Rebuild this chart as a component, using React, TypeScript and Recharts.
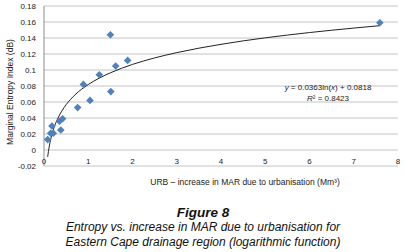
import { ComposedChart, Scatter, Line, XAxis, YAxis, CartesianGrid } from "recharts";

// URB – increase in MAR (Mm³) vs marginal entropy (dB)
const urb = [0.083, 0.15, 0.18, 0.21, 0.35, 0.38, 0.42, 0.76, 0.89, 1.04, 1.25, 1.5, 1.51, 1.62, 1.89, 7.59];
const entropy = [0.013, 0.021, 0.03, 0.021, 0.036, 0.025, 0.039, 0.053, 0.082, 0.062, 0.094, 0.144, 0.073, 0.105, 0.112, 0.159];

// log trendline y = 0.0363ln(x) + 0.0818
const trendX = [0.083, 0.1, 0.12, 0.15, 0.2, 0.25, 0.3, 0.4, 0.5, 0.7, 1, 1.25, 1.5, 2, 2.5, 3, 4, 5, 6, 7, 7.59];
const trendY = [-0.0085, -0.0018, 0.0048, 0.0129, 0.0234, 0.0315, 0.0381, 0.0485, 0.0566, 0.0689, 0.0818, 0.0899, 0.0965, 0.107, 0.1151, 0.1217, 0.1321, 0.1402, 0.1468, 0.1524, 0.1554];

const xTicks = [0, 1, 2, 3, 4, 5, 6, 7, 8];
const yTicks = [-0.02, 0, 0.02, 0.04, 0.06, 0.08, 0.1, 0.12, 0.14, 0.16, 0.18];

const points = urb.map((x, i) => ({ x, y: entropy[i] }));
const trend = trendX.map((x, i) => ({ x, y: trendY[i] }));

const font = "'Liberation Sans', Arial, sans-serif";

const Diamond = (props: any) => {
  const { cx, cy } = props;
  if (cx == null || cy == null) return null;
  const r = 3.8;
  return (
    <path
      d={`M${cx},${cy - r}L${cx + r},${cy}L${cx},${cy + r}L${cx - r},${cy}Z`}
      fill="#4f81bd"
    />
  );
};

const XTick = (props: any) => {
  const { x, y, payload } = props;
  return (
    <text x={x} y={y - 5} textAnchor="middle" dominantBaseline="central" fontSize={8} fill="#222" fontFamily={font}>
      {payload.value}
    </text>
  );
};

export default function App() {
  return (
    <div style={{ position: "absolute", left: 0, top: 0, width: 406, height: 252, background: "#fff", fontFamily: font }}>
      <ComposedChart width={406} height={170} margin={{ top: 6, right: 8, left: 0, bottom: 0 }}>
        <CartesianGrid horizontal vertical={false} stroke="#c4c4c4" />
        <XAxis
          type="number"
          dataKey="x"
          domain={[0, 8]}
          ticks={xTicks}
          height={4}
          tickSize={0}
          tickMargin={0}
          tickLine={false}
          axisLine={false}
          tick={<XTick />}
          interval={0}
        />
        <YAxis
          type="number"
          dataKey="y"
          domain={[-0.02, 0.18]}
          ticks={yTicks}
          width={44}
          tickSize={0}
          tickMargin={8}
          tickLine={false}
          axisLine={{ stroke: "#8c8c8c" }}
          interval={0}
          tick={{ fontSize: 8, fill: "#222", fontFamily: font }}
          tickFormatter={(v: number) => String(Number(v.toFixed(2)))}
        />
        <Line
          data={trend}
          dataKey="y"
          type="monotone"
          stroke="#222"
          strokeWidth={1}
          dot={false}
          isAnimationActive={false}
        />
        <Scatter data={points} dataKey="y" shape={<Diamond />} isAnimationActive={false} />
      </ComposedChart>

      <div style={{ position: "absolute", left: 266, top: 82, width: 124, textAlign: "center", fontSize: 8, lineHeight: "11px", color: "#222" }}>
        <div><i>y</i> = 0.0363ln(<i>x</i>) + 0.0818</div>
        <div><i>R</i>² = 0.8423</div>
      </div>

      <div
        style={{
          position: "absolute",
          left: 10,
          top: 92,
          transform: "translate(-50%, -50%) rotate(-90deg)",
          whiteSpace: "nowrap",
          fontSize: 8.5,
          color: "#222",
        }}
      >
        Marginal Entropy Index (dB)
      </div>

      <div style={{ position: "absolute", left: 145, top: 177, width: 200, textAlign: "center", fontSize: 8.5, whiteSpace: "nowrap", color: "#222" }}>
        URB – increase in MAR due to urbanisation (Mm³)
      </div>

      <div style={{ position: "absolute", left: 0, top: 205, width: 406, textAlign: "center", color: "#111", fontStyle: "italic", whiteSpace: "nowrap" }}>
        <div style={{ fontWeight: "bold", fontSize: 13.5, lineHeight: "15px" }}>Figure 8</div>
        <div style={{ fontSize: 12, lineHeight: "15px" }}>Entropy vs. increase in MAR due to urbanisation for</div>
        <div style={{ fontSize: 12, lineHeight: "15px" }}>Eastern Cape drainage region (logarithmic function)</div>
      </div>
    </div>
  );
}
